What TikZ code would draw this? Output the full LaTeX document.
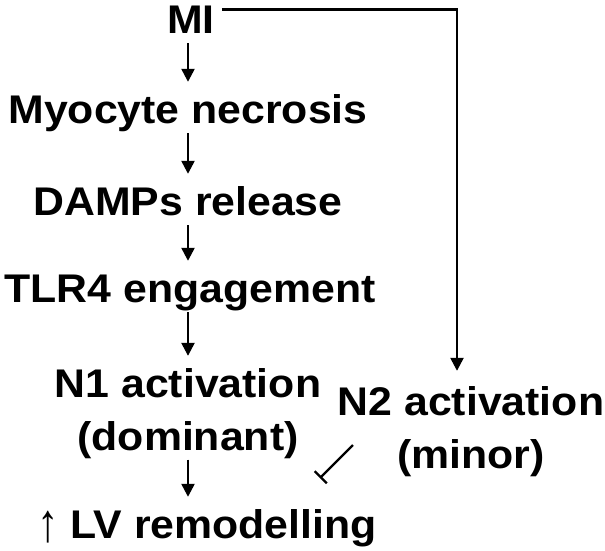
\documentclass[tikz,border=0pt]{standalone}
\usepackage{fontspec}
\setmainfont{Liberation Sans}[FakeStretch=1.07]
\usetikzlibrary{arrows.meta}

\begin{document}
\begin{tikzpicture}[x=1pt, y=-1pt,
  stage/.style={font=\fontsize{40}{53}\selectfont\bfseries, inner sep=0pt,
    text height=29pt, text depth=9pt, anchor=base},
  pair/.style={font=\fontsize{40}{53}\selectfont\bfseries, inner sep=0pt,
    align=center, anchor=base},
  arr/.style={-{Triangle[length=13pt,width=13pt]}, line width=2.4pt,
    shorten >=12pt, shorten <=1pt},
  inhib/.style={-{Bar[width=17pt]}, line width=2.2pt}]
  \useasboundingbox (0,0) rectangle (605,550);
  \node[stage] (mi) at (191,33) {MI};
  \node[stage] (myo) at (188,123) {Myocyte necrosis};
  \node[stage] (damps) at (188,215) {DAMPs release};
  \node[stage] (tlr) at (190,302) {TLR4 engagement};
  \node[pair] (n1) at (188,450) {N1 activation\\(dominant)};
  \node[pair] (n2) at (471,468) {N2 activation\\(minor)};
  \node[stage] (lv) at (207,538) {\raisebox{-3pt}{\scalebox{1}[1.35]{\mdseries ↑}} LV remodelling};
  \coordinate (turn) at (457,9.5);
  \coordinate (inhA) at (353,445);
  \coordinate (inhB) at (320,478);
  \draw[arr] (188,0 |- mi.south) -- (188,0 |- myo.north);
  \draw[arr] (188,0 |- myo.south) -- (188,0 |- damps.north);
  \draw[arr] (188,0 |- damps.south) -- (188,0 |- tlr.north);
  \draw[arr] (188,0 |- tlr.south) -- (188,0 |- n1.north);
  \draw[arr] (188,0 |- n1.south) -- (188,0 |- lv.north);
  \draw[arr, shorten >=15pt, shorten <=0pt] ([xshift=7pt]mi.east |- turn) -- (turn) -- (turn |- n2.north);
  \draw[inhib] (inhA) -- (inhB);
\end{tikzpicture}
\end{document}
